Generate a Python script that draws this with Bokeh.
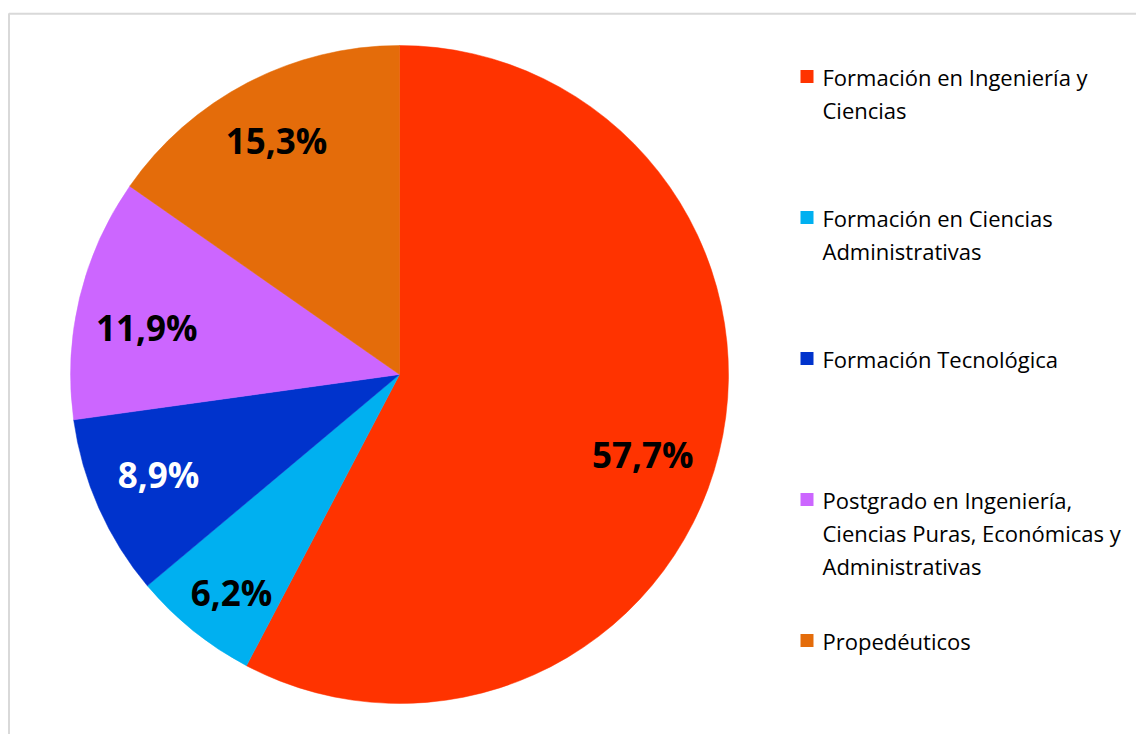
import math
from bokeh.plotting import figure
from bokeh.models import ColumnDataSource, Range1d, BoxAnnotation
from bokeh.core.properties import value
from bokeh.embed import file_html
from bokeh.resources import INLINE

# ---- data ----
categories = [
    "Formación en Ingeniería y\nCiencias",
    "Formación en Ciencias\nAdministrativas",
    "Formación Tecnológica",
    "Postgrado en Ingeniería,\nCiencias Puras, Económicas y\nAdministrativas",
    "Propedéuticos",
]
shares = [57.7, 6.2, 8.9, 11.9, 15.3]
colors = ["#FF3300", "#00B0F0", "#0033CC", "#CC66FF", "#E46C0A"]
label_colors = ["black", "black", "white", "black", "black"]

# ---- layout constants (pixels) ----
W, H = 1136, 734
cx, cy, R = 399, 360, 329
label_r = [256, 275, 261, 257, 264]          # radial distance of labels
label_turn = [-4.3, 1.2, -1.3, 3.0, 0.2]     # small angular nudge (deg)

total = sum(shares)
starts, ends, lx, ly, texts = [], [], [], [], []
cum = 0.0
for i, v in enumerate(shares):
    a0 = math.pi / 2 - 2 * math.pi * cum / total
    cum += v
    a1 = math.pi / 2 - 2 * math.pi * cum / total
    starts.append(a0)
    ends.append(a1)
    mid = (a0 + a1) / 2 + math.radians(label_turn[i])
    lx.append(cx + label_r[i] * math.cos(mid))
    ly.append(cy + label_r[i] * math.sin(mid))
    texts.append(f"{v:.1f}".replace(".", ",") + "%")

src = ColumnDataSource(dict(start=starts, end=ends, color=colors,
                            lx=lx, ly=ly, text=texts, tcolor=label_colors))

p = figure(width=W, height=H, output_backend="svg", toolbar_location=None,
           x_range=Range1d(0, W), y_range=Range1d(0, H),
           min_border=0, outline_line_color=None)
p.axis.visible = False
p.grid.visible = False
p.background_fill_color = "white"

# frame (only left/top visible, as in the reference)
p.add_layout(BoxAnnotation(left=8.5, right=W + 200, bottom=-200, top=720.7,
                           fill_alpha=0, line_color="#808080", line_width=2))

p.wedge(x=cx, y=cy, radius=R, start_angle="start", end_angle="end",
        direction="clock", fill_color="color", line_color="color",
        line_width=0.5, source=src)

p.text(x="lx", y="ly", text="text", text_color="tcolor",
       text_font=value("Open Sans"), text_font_style="bold",
       text_font_size="35px", text_align="center", text_baseline="middle",
       source=src)

# legend
leg_x, leg_y0, leg_step, line_step = 806.5, 658, 141, 33
sq_x, sq_y, sq_c = [], [], []
tx, ty, tt = [], [], []
for i, (cat, col) in enumerate(zip(categories, colors)):
    y0 = leg_y0 - i * leg_step
    sq_x.append(leg_x)
    sq_y.append(y0)
    sq_c.append(col)
    for j, line in enumerate(cat.split("\n")):
        tx.append(leg_x + 15.5)
        ty.append(y0 - j * line_step)
        tt.append(line)

p.scatter(x=sq_x, y=sq_y, marker="square", size=13, fill_color=sq_c,
          line_color=None)
p.text(x=tx, y=ty, text=tt, text_color="black",
       text_font=value("Open Sans"), text_font_size="22px",
       text_align="left", text_baseline="middle")

open("out.html", "w").write(file_html(p, INLINE))
